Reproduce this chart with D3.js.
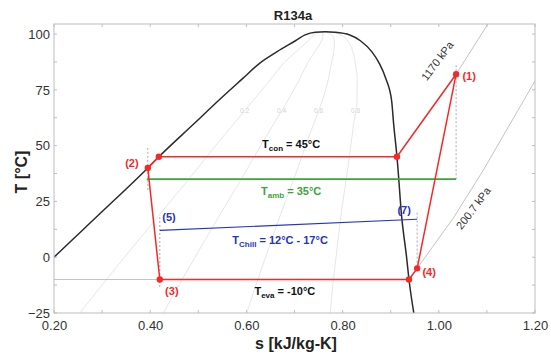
<!DOCTYPE html>
<html>
<head>
<meta charset="utf-8">
<script src="https://cdn.jsdelivr.net/npm/d3@7"></script>
<style>
  body { margin: 0; background: #fff; }
  text { font-family: Arial, "Liberation Sans", sans-serif; }
</style>
</head>
<body>
<svg id="chart" width="551" height="354"></svg>
<script>

// saturation dome
var satT  = [-25, -10, 0, 20, 40, 45, 60, 70, 80, 87, 92, 97, 99.6, 100.8, 101];
var satSf = [0.080, 0.152, 0.200, 0.298, 0.395, 0.418, 0.492, 0.541, 0.592, 0.628, 0.663, 0.702, 0.722, 0.743, 0.764];
var satSg = [0.948, 0.938, 0.933, 0.922, 0.915, 0.913, 0.906, 0.902, 0.890, 0.876, 0.861, 0.837, 0.815, 0.784, 0.764];

var qualities = [0.2, 0.4, 0.6, 0.8];

// refrigeration cycle
var cycS = [1.036, 0.913, 0.418, 0.395, 0.420, 0.938, 0.955, 1.036];
var cycT = [82, 45, 45, 40, -10, -10, -5, 82];

// isobars
var hpS = [0.913, 0.975, 1.036, 1.102];
var hpT = [45, 64, 82, 104.5];
var lpS = [0.15, 0.938, 0.955, 1.030, 1.092, 1.200];
var lpT = [-10, -10, -5, 17.5, 38.8, 79];

// ambient and chilled water lines
var ambS = [0.393, 1.036];
var ambT = [35, 35];
var chillS = [0.420, 0.955];
var chillT = [12, 17];

// dotted guide lines: s, T from, T to
var guideS  = [1.036, 0.395, 0.420, 0.955];
var guideT0 = [86, 49, 18, 20];
var guideT1 = [35, 30, -14, -5];

var xTicks = [0.2, 0.4, 0.6, 0.8, 1.0, 1.2];
var xMinor = [0.2, 0.3, 0.4, 0.5, 0.6, 0.7, 0.8, 0.9, 1.0, 1.1, 1.2];
var yTicks = [-25, 0, 25, 50, 75, 100];
var yMinor = [-25, -12.5, 0, 12.5, 25, 37.5, 50, 62.5, 75, 87.5, 100];

var svg = d3.select("#chart");
var margin = {left: 54, right: 16, top: 24, bottom: 41},
    width  = +svg.attr("width")  - margin.left - margin.right,
    height = +svg.attr("height") - margin.top  - margin.bottom;

var x = d3.scaleLinear().domain([0.2, 1.2]).range([0, width]);
var y = d3.scaleLinear().domain([-25, 104.5]).range([height, 0]);

svg.append("clipPath").attr("id", "plotclip")
    .append("rect").attr("x", 0).attr("y", 0).attr("width", width).attr("height", height);

var g = svg.append("g")
    .attr("transform", "translate(" + margin.left + "," + margin.top + ")");

function pts(sArr, tArr){
    return sArr.map(function(s, i){ return [s, tArr[i]]; });
}

var line = d3.line()
    .x(function(d){ return x(d[0]); })
    .y(function(d){ return y(d[1]); });

var plot = g.append("g").attr("clip-path", "url(#plotclip)");

// quality lines inside the dome
qualities.forEach(function(q){
    var qs = satT.map(function(t, i){ return satSf[i] + q*(satSg[i] - satSf[i]); });
    plot.append("path")
        .datum(pts(qs, satT))
        .attr("fill", "none")
        .attr("stroke", "#e0e0e0")
        .attr("stroke-width", 0.8)
        .attr("d", line.curve(d3.curveMonotoneY));
    // label at about 66 C
    var i0 = satT.indexOf(60), i1 = satT.indexOf(70);
    var sl = qs[i0] + 0.56*(qs[i1] - qs[i0]);
    g.append("text")
        .attr("x", x(sl)).attr("y", y(65.6) + 2.5)
        .attr("text-anchor", "middle")
        .attr("font-size", "6.5px")
        .attr("fill", "#d2d2d2")
        .text(q.toFixed(1));
});

// isobars
[[hpS, hpT], [lpS, lpT]].forEach(function(p){
    plot.append("path")
        .datum(pts(p[0], p[1]))
        .attr("fill", "none")
        .attr("stroke", "#b4b4b4")
        .attr("stroke-width", 0.8)
        .attr("d", line.curve(d3.curveLinear));
});

// dome
var dome = pts(satSf, satT).concat(pts(satSg, satT).reverse().slice(1));
plot.append("path")
    .datum(dome)
    .attr("fill", "none")
    .attr("stroke", "#2a2a2a")
    .attr("stroke-width", 1.5)
    .attr("d", line.curve(d3.curveMonotoneX));

// guides
guideS.forEach(function(s, i){
    plot.append("line")
        .attr("x1", x(s)).attr("x2", x(s))
        .attr("y1", y(guideT0[i])).attr("y2", y(guideT1[i]))
        .attr("stroke", "#aaaaaa")
        .attr("stroke-width", 1)
        .attr("stroke-dasharray", "2,2");
});

// ambient / chilled
plot.append("path").datum(pts(ambS, ambT))
    .attr("fill", "none").attr("stroke", "#3aa63a").attr("stroke-width", 1.6)
    .attr("d", line.curve(d3.curveLinear));
plot.append("path").datum(pts(chillS, chillT))
    .attr("fill", "none").attr("stroke", "#2433c4").attr("stroke-width", 1.2)
    .attr("d", line.curve(d3.curveLinear));

// cycle
plot.append("path").datum(pts(cycS, cycT))
    .attr("fill", "none").attr("stroke", "#f42a2a").attr("stroke-width", 1.5)
    .attr("d", line.curve(d3.curveLinear));
plot.selectAll(".dot").data(pts(cycS, cycT).slice(0, cycS.length - 1))
    .enter().append("circle")
    .attr("cx", function(d){ return x(d[0]); })
    .attr("cy", function(d){ return y(d[1]); })
    .attr("r", 3.2)
    .attr("fill", "#f42a2a");

// frame and ticks
g.append("rect").attr("width", width).attr("height", height)
    .attr("fill", "none").attr("stroke", "#bdbdbd").attr("stroke-width", 1);

xMinor.forEach(function(v){
    g.append("line").attr("x1", x(v)).attr("x2", x(v)).attr("y1", height).attr("y2", height - 3).attr("stroke", "#bdbdbd");
    g.append("line").attr("x1", x(v)).attr("x2", x(v)).attr("y1", 0).attr("y2", 3).attr("stroke", "#bdbdbd");
});
yMinor.forEach(function(v){
    g.append("line").attr("x1", 0).attr("x2", 3).attr("y1", y(v)).attr("y2", y(v)).attr("stroke", "#bdbdbd");
    g.append("line").attr("x1", width).attr("x2", width - 3).attr("y1", y(v)).attr("y2", y(v)).attr("stroke", "#bdbdbd");
});

var xAx = g.append("g")
    .attr("transform", "translate(0," + height + ")")
    .call(d3.axisBottom(x).tickValues(xTicks).tickSize(0).tickPadding(8).tickFormat(d3.format(".2f")));
var yAx = g.append("g")
    .call(d3.axisLeft(y).tickValues(yTicks).tickSize(0).tickPadding(4));
[xAx, yAx].forEach(function(a){
    a.select(".domain").remove();
    a.selectAll("text").attr("font-size", "13px").attr("fill", "#333").attr("font-family", "Arial, 'Liberation Sans', sans-serif");
});

// titles
svg.append("text").attr("x", 293).attr("y", 20).attr("text-anchor", "middle")
    .attr("font-size", "13px").attr("font-weight", "bold").attr("fill", "#222").text("R134a");
svg.append("text").attr("x", 296).attr("y", 349).attr("text-anchor", "middle")
    .attr("font-size", "16px").attr("font-weight", "bold").attr("fill", "#222").text("s [kJ/kg-K]");
svg.append("text").attr("transform", "translate(27,172) rotate(-90)").attr("text-anchor", "middle")
    .attr("font-size", "16px").attr("font-weight", "bold").attr("fill", "#222").text("T [°C]");

// annotations
function subLabel(s, t, sub, rest, color){
    var tx = g.append("text").attr("x", x(s)).attr("y", y(t))
        .attr("text-anchor", "middle").attr("font-size", "11px")
        .attr("font-weight", "bold").attr("fill", color);
    tx.append("tspan").text("T");
    tx.append("tspan").attr("font-size", "8px").attr("dy", 3).text(sub);
    tx.append("tspan").attr("dy", -3).text(rest);
}
subLabel(0.693, 49, "con", " = 45°C", "#111");
subLabel(0.693, 28, "amb", " = 35°C", "#3aa63a");
subLabel(0.670, 6.1, "Chill", " = 12°C - 17°C", "#2433c4");
subLabel(0.680, -17.1, "eva", " = -10°C", "#111");

function ptLabel(s, t, txt, color){
    g.append("text").attr("x", x(s)).attr("y", y(t))
        .attr("text-anchor", "middle").attr("font-size", "11px")
        .attr("font-weight", "bold").attr("fill", color).text(txt);
}
ptLabel(1.063, 79.4, "(1)", "#f42a2a");
ptLabel(0.362, 40.5, "(2)", "#f42a2a");
ptLabel(0.445, -17.1, "(3)", "#f42a2a");
ptLabel(0.980, -8.6, "(4)", "#f42a2a");
ptLabel(0.439, 16.4, "(5)", "#2433c4");
ptLabel(0.928, 19.5, "(7)", "#2433c4");

function pLabel(s, t, txt){
    g.append("text")
        .attr("transform", "translate(" + x(s) + "," + y(t) + ") rotate(-53)")
        .attr("text-anchor", "middle").attr("dy", "0.35em")
        .attr("font-size", "11px").attr("fill", "#333").text(txt);
}
pLabel(0.997, 88, "1170 kPa");
pLabel(1.072, 22, "200.7 kPa");

</script>
</body>
</html>
